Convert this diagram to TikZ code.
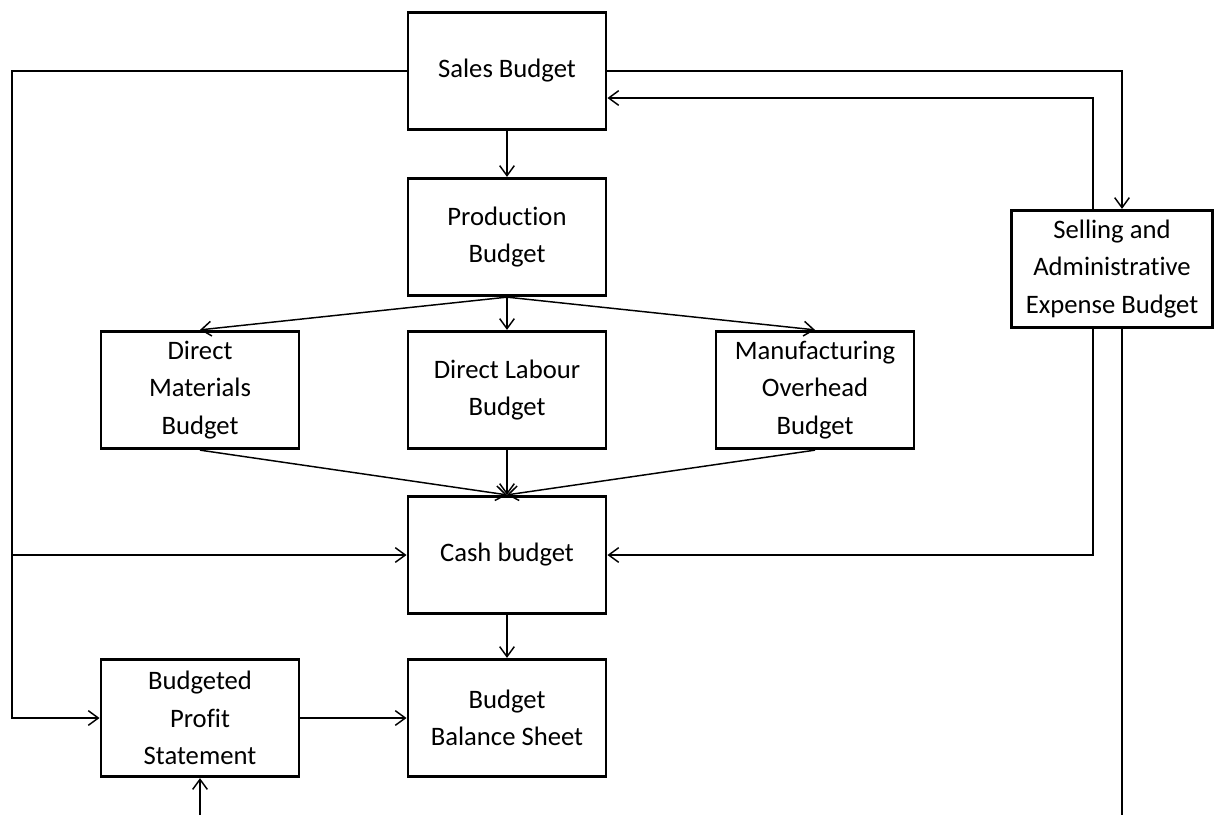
\documentclass[tikz,border=0pt]{standalone}
\usepackage{fontspec}
\setmainfont{Carlito}[Ligatures=NoCommon]
\usetikzlibrary{arrows.meta,calc}
\begin{document}
\begin{tikzpicture}[x=0.75pt,y=-0.75pt,
  box/.style={draw, line width=2.2pt, minimum width=148.5pt, minimum height=88pt,
    align=center, inner sep=0pt, fill=white, font=\fontsize{20}{28}\selectfont},
  conn/.style={line width=1.1pt},
  arr/.style={conn, -{Straight Barb[length=7.5pt,width=11pt,line width=1.1pt]}}]
\useasboundingbox (0,0) rectangle (1225,815);
\fill[white] (0,0) rectangle (1225,815);

\node[box] (sales) at (507,71) {\raisebox{-2pt}{Sales Budget}};
\node[box] (prod) at (507,237) {Production\\Budget};
\node[box] (dm) at (200,390) {Direct\\Materials\\Budget};
\node[box] (dl) at (507,390) {Direct Labour\\Budget};
\node[box] (mo) at (815,390) {Manufacturing\\Overhead\\Budget};
\node[box] (cash) at (507,555) {\raisebox{-2pt}{Cash budget}};
\node[box] (profit) at (200,718) {Budgeted\\Profit\\Statement};
\node[box] (bal) at (507,718) {Budget\\Balance Sheet};
\node[box, minimum width=151pt] (sell) at (1112,269) {Selling and\\Administrative\\Expense Budget};

\coordinate (lj) at (12,555);
\coordinate (rb) at (1122,815);
\coordinate (pb) at (200,815);

% left loop
\draw[arr] (sales.west) -| (12,718) -- (profit.west);
\draw[arr] (lj) -- (cash.west);

% right side
\draw[arr] (sales.east) -| ($(sell.north)+(10,0)$);
\draw[arr] ($(sell.north)+(-19,0)$) |- ($(sales.east)+(0,27)$);
\draw[arr] ($(sell.south)+(-19,0)$) |- (cash.east);
\draw[conn] ($(sell.south)+(10,0)$) -- (rb);
\draw[arr] (pb) -- (profit.south);

% main flow
\draw[arr] (sales) -- (prod);
\draw[arr] (prod.south) -- (dm.north);
\draw[arr] (prod.south) -- (dl.north);
\draw[arr] (prod.south) -- (mo.north);
\draw[arr] (dm.south) -- (cash.north);
\draw[arr] (dl.south) -- (cash.north);
\draw[arr] (mo.south) -- (cash.north);
\draw[arr] (cash) -- (bal);
\draw[arr] (profit) -- (bal);
\end{tikzpicture}
\end{document}
